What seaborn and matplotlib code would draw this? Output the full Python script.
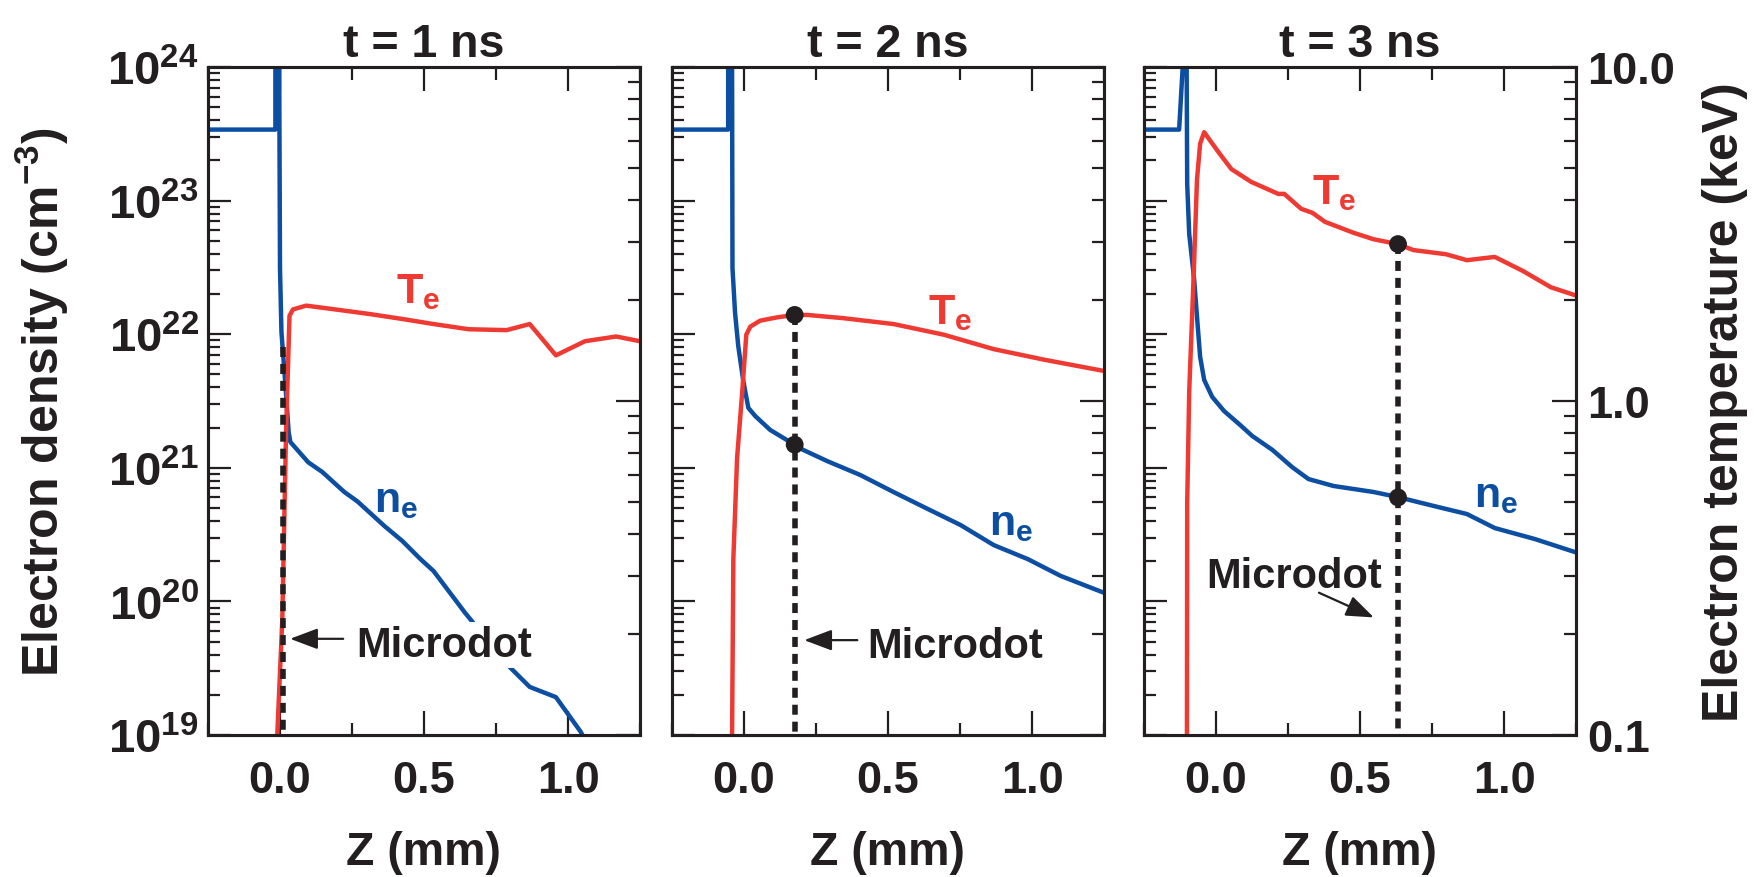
import numpy as np
import matplotlib
matplotlib.use("Agg")
import matplotlib.pyplot as plt
import seaborn as sns
from matplotlib.ticker import (LogLocator, MultipleLocator, FixedLocator,
                               FuncFormatter, NullFormatter)

# ---------------- data ----------------
titles = ["t = 1 ns", "t = 2 ns", "t = 3 ns"]
xticks_major = [0.0, 0.5, 1.0]

# panel 1 (t = 1 ns)
z_ne_1 = [-0.25, -0.016, -0.016, -0.004, 0.000, 0.005, 0.018, 0.030, 0.036, 0.098,
          0.147, 0.223, 0.269, 0.363, 0.425, 0.488, 0.533, 0.641, 0.787, 0.867,
          0.958, 1.045, 1.10]
ne_1 = [3.4e23, 3.4e23, 5e24, 5e24, 3.1e22, 1.04e22, 4.4e21, 1.85e21, 1.56e21, 1.10e21,
        9.3e20, 6.6e20, 5.6e20, 3.66e20, 2.83e20, 2.07e20, 1.69e20, 8.3e19, 3.4e19, 2.29e19,
        1.92e19, 1.05e19, 6.0e18]
z_te_1 = [-0.013, 0.008, 0.021, 0.033, 0.045, 0.091, 0.192, 0.314, 0.425, 0.533,
          0.655, 0.787, 0.867, 0.958, 1.059, 1.167, 1.25]
te_1 = [0.085, 0.222, 0.807, 1.80, 1.88, 1.93, 1.88, 1.82, 1.76, 1.70,
        1.64, 1.63, 1.70, 1.37, 1.51, 1.56, 1.51]

# panel 2 (t = 2 ns)
z_ne_2 = [-0.25, -0.055, -0.055, -0.042, -0.040, -0.031, -0.020, -0.003, 0.015, 0.039,
          0.091, 0.171, 0.206, 0.290, 0.404, 0.519, 0.638, 0.752, 0.867, 0.986,
          1.100, 1.25]
ne_2 = [3.4e23, 3.4e23, 5e24, 5e24, 3.13e22, 1.44e22, 8.17e21, 4.54e21, 2.81e21, 2.44e21,
        1.92e21, 1.51e21, 1.36e21, 1.12e21, 8.83e20, 6.59e20, 4.92e20, 3.73e20, 2.64e20, 2.07e20,
        1.55e20, 1.16e20]
z_te_2 = [-0.042, -0.037, -0.024, -0.006, 0.008, 0.022, 0.056, 0.115, 0.178, 0.220,
          0.345, 0.519, 0.693, 0.867, 1.041, 1.25]
te_2 = [0.085, 0.336, 0.675, 1.07, 1.58, 1.67, 1.74, 1.78, 1.81, 1.81,
        1.77, 1.70, 1.58, 1.43, 1.33, 1.23]

# panel 3 (t = 3 ns)
z_ne_3 = [-0.25, -0.128, -0.103, -0.100, -0.093, -0.076, -0.064, -0.055, -0.041, -0.013,
          0.028, 0.084, 0.126, 0.196, 0.265, 0.321, 0.408, 0.547, 0.631, 0.756,
          0.871, 0.968, 1.107, 1.257]
ne_3 = [3.4e23, 3.4e23, 3e24, 1.33e23, 5.62e22, 2.59e22, 1.19e22, 6.75e21, 4.54e21, 3.39e21,
        2.66e21, 2.09e21, 1.73e21, 1.36e21, 1.01e21, 8.24e20, 7.31e20, 6.59e20, 6.04e20, 5.18e20,
        4.51e20, 3.54e20, 2.93e20, 2.30e20]
z_te_3 = [-0.101, -0.100, -0.093, -0.078, -0.066, -0.055, -0.041, -0.025, 0.008, 0.053,
          0.122, 0.216, 0.237, 0.296, 0.335, 0.378, 0.477, 0.547, 0.631, 0.686,
          0.799, 0.871, 0.968, 1.066, 1.163, 1.257]
te_3 = [0.085, 0.495, 1.07, 2.32, 4.6, 5.9, 6.38, 6.1, 5.57, 4.95,
        4.53, 4.17, 4.17, 3.76, 3.66, 3.44, 3.19, 3.05, 2.95, 2.83,
        2.75, 2.64, 2.70, 2.45, 2.19, 2.06]

# microdot position and the values marked on it
micro_z = [0.011, 0.176, 0.632]
micro_top_te = [1.45, 1.81, 2.95]      # top of the dashed marker line (keV)
micro_dot_te = [None, 1.81, 2.95]
micro_dot_ne = [None, 1.49e21, 6.0e20]

panels_z_ne = [z_ne_1, z_ne_2, z_ne_3]
panels_ne = [ne_1, ne_2, ne_3]
panels_z_te = [z_te_1, z_te_2, z_te_3]
panels_te = [te_1, te_2, te_3]

# ---------------- style ----------------
sns.set_theme(style="ticks")
INK = "#231f20"
BLUE = "#0c4ea2"
RED = "#ee3a32"
plt.rcParams.update({
    "font.family": ["Liberation Sans", "DejaVu Sans"],
    "font.weight": "bold",
    "mathtext.fontset": "custom",
    "mathtext.rm": "Liberation Sans:bold",
    "mathtext.it": "Liberation Sans:bold",
    "mathtext.bf": "Liberation Sans:bold",
    "mathtext.sf": "Liberation Sans:bold",
    "axes.linewidth": 2.2,
    "axes.edgecolor": INK,
    "text.color": INK,
    "axes.labelcolor": INK,
    "xtick.color": INK,
    "ytick.color": INK,
    "axes.facecolor": "white",
    "figure.facecolor": "white",
})

TICK_FS = 32.5
fig = plt.figure(figsize=(17.62, 8.78), dpi=100)
W, H = 1762.0, 878.0
lefts = [208, 672, 1144]
pw, top, bot = 432, 68, 736

# text placement (axes fraction)
te_lab = [(0.436, 0.648), (0.592, 0.617), (0.389, 0.796)]
ne_lab = [(0.385, 0.335), (0.733, 0.301), (0.763, 0.343)]
md_lab = [(0.343, 0.118), (0.452, 0.117), (0.143, 0.222)]
md_arrow = [((0.313, 0.144), (0.190, 0.144)),
            ((0.429, 0.142), (0.306, 0.142)),
            ((0.405, 0.213), (0.532, 0.176))]

for i in range(3):
    ax = fig.add_axes([lefts[i] / W, 1 - bot / H, pw / W, (bot - top) / H])
    ax2 = ax.twinx()

    # density (left axis)
    ax.set_yscale("log")
    sns.lineplot(x=panels_z_ne[i], y=panels_ne[i], ax=ax, color=BLUE, lw=3.2,
                 sort=False, estimator=None, legend=False)
    # temperature (right axis)
    ax2.set_yscale("log")
    sns.lineplot(x=panels_z_te[i], y=panels_te[i], ax=ax2, color=RED, lw=3.2,
                 sort=False, estimator=None, legend=False)

    # microdot dashed line
    sns.lineplot(x=[micro_z[i], micro_z[i]], y=[micro_top_te[i], 0.05], ax=ax2,
                 color=INK, lw=4.0, linestyle=(0, (1.8, 1.25)), sort=False,
                 estimator=None, legend=False, zorder=5)
    if micro_dot_te[i] is not None:
        sns.scatterplot(x=[micro_z[i]], y=[micro_dot_te[i]], ax=ax2, color=INK,
                        s=165, edgecolor="none", zorder=6, legend=False)
        sns.scatterplot(x=[micro_z[i]], y=[micro_dot_ne[i]], ax=ax, color=INK,
                        s=165, edgecolor="none", zorder=6, legend=False)

    # limits
    ax.set_xlim(-0.25, 1.25)
    ax.set_ylim(1e19, 1e24)
    ax2.set_ylim(0.1, 10)

    # x ticks
    ax.xaxis.set_major_locator(FixedLocator(xticks_major))
    ax.xaxis.set_minor_locator(MultipleLocator(0.25))
    ax.xaxis.set_major_formatter(FuncFormatter(lambda v, p: f"{v:.1f}"))
    ax.tick_params(axis="x", which="both", direction="in", top=True, bottom=True,
                   width=1.6, labelsize=TICK_FS, pad=18)
    ax.tick_params(axis="x", which="major", length=17)
    ax.tick_params(axis="x", which="minor", length=9)

    # density ticks
    ax.yaxis.set_major_locator(LogLocator(base=10, numticks=10))
    ax.yaxis.set_minor_locator(LogLocator(base=10, subs=np.arange(2, 10), numticks=20))
    ax.yaxis.set_minor_formatter(NullFormatter())
    ax.yaxis.set_major_formatter(
        FuncFormatter(lambda v, p: r"$10^{%d}$" % int(round(np.log10(v)))))
    ax.tick_params(axis="y", which="both", direction="in", left=True, right=False,
                   labelleft=(i == 0), width=1.6, labelsize=TICK_FS + 1.5, pad=6.5)
    ax.tick_params(axis="y", which="major", length=16.5)
    ax.tick_params(axis="y", which="minor", length=8.6)

    # temperature ticks
    ax2.yaxis.set_major_locator(FixedLocator([0.1, 1.0, 10.0]))
    ax2.yaxis.set_minor_locator(LogLocator(base=10, subs=np.arange(2, 10), numticks=20))
    ax2.yaxis.set_minor_formatter(NullFormatter())
    ax2.yaxis.set_major_formatter(FuncFormatter(lambda v, p: f"{v:.1f}"))
    ax2.tick_params(axis="y", which="both", direction="in", right=True, left=False,
                    labelright=(i == 2), width=1.6, labelsize=TICK_FS, pad=8)
    ax2.tick_params(axis="y", which="major", length=17)
    ax2.tick_params(axis="y", which="minor", length=8.6)

    for a in (ax, ax2):
        for s in a.spines.values():
            s.set_linewidth(2.2)
            s.set_color(INK)

    ax.set_title(titles[i], fontsize=33.5, fontweight="bold", pad=8)
    ax.set_xlabel("Z (mm)", fontsize=33.5, fontweight="bold", labelpad=21)
    ax.set_ylabel("")
    ax2.set_ylabel("")
    if i == 0:
        ax.set_ylabel(r"Electron density (cm$^{-3}$)", fontsize=36, fontweight="bold")
        ax.yaxis.set_label_coords(-0.318, 0.5)
    if i == 2:
        ax2.set_ylabel("Electron temperature (keV)", fontsize=36, fontweight="bold")
        ax2.yaxis.set_label_coords(1.291, 0.5)

    # curve labels
    ax2.text(*te_lab[i], r"$T_e$", transform=ax2.transAxes, color=RED,
             fontsize=31, ha="left", va="baseline", zorder=7)
    ax2.text(*ne_lab[i], r"$n_e$", transform=ax2.transAxes, color=BLUE,
             fontsize=31, ha="left", va="baseline", zorder=7)
    ax2.text(*md_lab[i], "Microdot", transform=ax2.transAxes, color=INK,
             fontsize=30, fontweight="bold", ha="left", va="baseline", zorder=7,
             bbox=dict(facecolor="white", edgecolor="none", pad=2))
    tail, tip = md_arrow[i]
    ax2.annotate("", xy=tip, xytext=tail, xycoords="axes fraction",
                 textcoords="axes fraction", zorder=8,
                 arrowprops=dict(arrowstyle="-|>,head_length=0.85,head_width=0.32",
                                 mutation_scale=20, lw=1.6, color=INK,
                                 shrinkA=0, shrinkB=0))

fig.savefig("out.png", dpi=100)
